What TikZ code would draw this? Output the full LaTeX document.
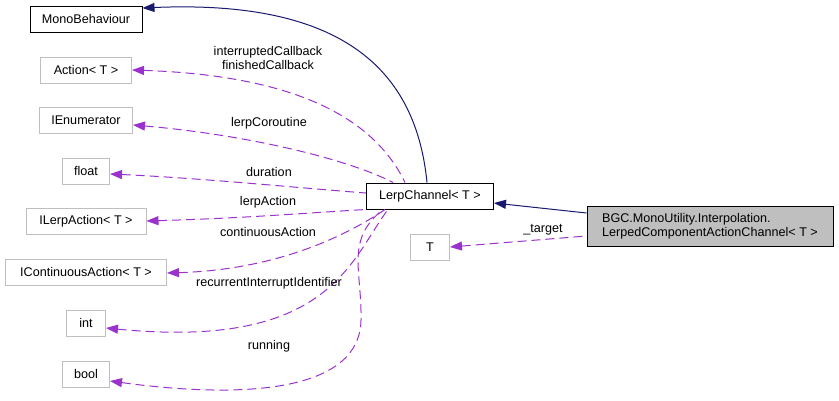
\documentclass[tikz,border=0pt]{standalone}
\usepackage{fontspec}
\setmainfont{Liberation Sans}
\usetikzlibrary{arrows.meta}
\definecolor{inhNavy}{HTML}{191970}
\definecolor{memPurple}{HTML}{9A32CD}
\definecolor{boxGray}{HTML}{BFBFBF}
\definecolor{curFill}{HTML}{BFBFBF}

\begin{document}
\begin{tikzpicture}[
  x=1pt, y=-1pt,
  font=\fontsize{12.6}{14.5}\selectfont,
  cls/.style={rectangle, draw=boxGray, line width=1pt, inner xsep=2pt, minimum height=26pt},
  base/.style={rectangle, draw=black, line width=1pt, inner xsep=2pt, minimum height=26pt},
  cur/.style={rectangle, draw=black, fill=curFill, line width=1pt, align=left, inner xsep=11pt, minimum height=40pt, minimum width=246pt},
  lbl/.style={inner sep=1pt, align=center},
  inh/.style={{Triangle[length=12pt, width=9pt]}-, draw=inhNavy, line width=1pt},
  mem/.style={{Triangle[length=12pt, width=9pt]}-, draw=memPurple, line width=1pt, dash pattern=on 9pt off 5pt},
]
\useasboundingbox (0,0) rectangle (839,400);

% ===== member types (left column) ==========================================
\node[base, minimum width=112pt] (mono)  at (86,19)  {MonoBehaviour};
\node[cls, minimum width=91pt]   (act)   at (86,70)  {Action< T >};
\node[cls, minimum width=93pt]   (enm)   at (86,120) {IEnumerator};
\node[cls, minimum width=47pt]   (flt)   at (86,171) {float};
\node[cls, minimum width=120pt]  (ilerp) at (86,221) {ILerpAction< T >};
\node[cls, minimum width=161pt]  (icont) at (86,272) {IContinuousAction< T >};
\node[cls, minimum width=39pt]   (int)   at (86,323) {int};
\node[cls, minimum width=47pt]   (bool)  at (86,374) {bool};

% ===== channel classes =====================================================
\node[base, minimum width=127pt] (lerp) at (430,196) {LerpChannel< T >};
\node[cls, minimum width=39pt]   (tt)   at (430,247) {T};
\node[cur] (lcac) at (710,226)
  {BGC.MonoUtility.Interpolation.\\LerpedComponentActionChannel< T >};

% ===== inheritance =========================================================
\draw[inh] (mono.east) ++(0,-11) coordinate (monoin)
  (monoin) .. controls (330,0) and (415,60) .. (lerp.north -| 427,0);
\draw[inh] (lerp.east) ++(0,7) coordinate (lerpin)
  (lerpin) -- (lcac.west |- 0,213);

% ===== member links ========================================================
\draw[mem] (act.east) .. controls (280,75) and (370,110) .. (lerp.north -| 405,0);
\draw[mem] (enm.east) ++(0,5) coordinate (enmin)
  (enmin) .. controls (250,135) and (350,160) .. (lerp.north -| 393,0);
\draw[mem] (flt.east) ++(0,3) coordinate (fltin)
  (fltin) .. controls (200,178) and (300,188) .. (lerp.west |- 0,193);
\draw[mem] (ilerp.east) .. controls (250,218) and (320,212) .. (lerp.south west);
\draw[mem] (icont.east) ++(0,1) coordinate (icontin)
  (icontin) .. controls (270,270) and (340,240) .. (lerp.south -| 385,0);
\draw[mem] (int.east) ++(0,5) coordinate (intin)
  (intin) .. controls (330,350) and (350,260) .. (lerp.south -| 388,0);
\draw[mem] (bool.east) ++(0,7) coordinate (boolin)
  (boolin) .. controls (250,400) and (360,390) .. (361,320)
  .. controls (362,270) and (345,240) .. (lerp.south -| 383,0);
\draw[mem] (tt.east) -- (lcac.west |- 0,236);

% ===== member labels =======================================================
\node[lbl] (lcb)  at (268,58)  {interruptedCallback\\finishedCallback};
\node[lbl] (lco)  at (269,123) {lerpCoroutine};
\node[lbl] (ldur) at (269,172) {duration};
\node[lbl] (lla)  at (268,202) {lerpAction};
\node[lbl] (lca)  at (268,232) {continuousAction};
\node[lbl] (lrii) at (269,283) {recurrentInterruptIdentifier};
\node[lbl] (lrun) at (269,346) {running};
\node[lbl] (ltgt) at (543,230) {\_target};

\end{tikzpicture}
\end{document}
